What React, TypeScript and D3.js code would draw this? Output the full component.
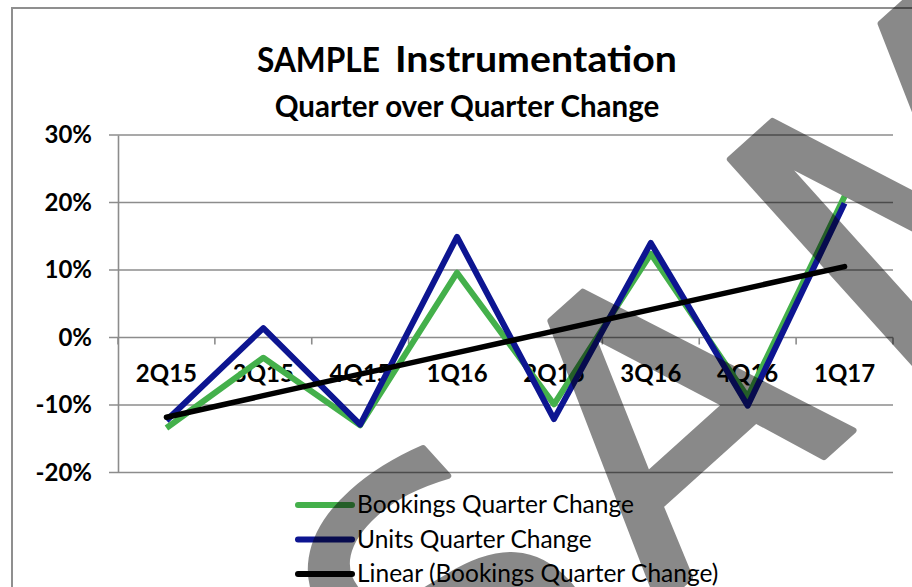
import React, { useEffect, useRef } from 'react'
import * as d3 from 'd3'

// data (percent change)
const quarters = ['2Q15', '3Q15', '4Q15', '1Q16', '2Q16', '3Q16', '4Q16', '1Q17']
const bookingsChange = [-13.4, -3.0, -13.0, 9.6, -9.9, 12.4, -8.8, 20.9]
const unitsChange = [-12.3, 1.4, -12.9, 14.9, -12.1, 14.0, -10.1, 19.9]
const yTicks = [-20, -10, 0, 10, 20, 30]
const legendNames = ['Bookings Quarter Change', 'Units Quarter Change', 'Linear (Bookings Quarter Change)']
const seriesColors = ['#44b04b', '#0d1591', '#000000']

const W = 912
const H = 587
const FONT = 'Lato, "Open Sans", sans-serif'

export default function App() {
  const ref = useRef<SVGSVGElement>(null)

  useEffect(() => {
    const svg = d3.select(ref.current)
    svg.selectAll('*').remove()

    const left = 118
    const right = 893
    const top = 135
    const bottom = 472.5

    const x = d3.scaleBand().domain(quarters).range([left, right])
    const y = d3.scaleLinear().domain([-20, 30]).range([bottom, top])
    const cx = (q: string) => (x(q) as number) + x.bandwidth() / 2

    svg.append('rect').attr('width', W).attr('height', H).attr('fill', '#fff')

    // chart border (left + top, right side is cut off)
    svg.append('path')
      .attr('d', `M12,${H}V8H${W}`)
      .attr('fill', 'none')
      .attr('stroke', '#8f8f8f')
      .attr('stroke-width', 2)

    // titles
    svg.append('text')
      .attr('x', 257).attr('y', 72)
      .attr('font-family', FONT)
      .attr('font-size', 35)
      .attr('font-weight', 700)
      .attr('textLength', 123)
      .attr('lengthAdjust', 'spacingAndGlyphs')
      .text('SAMPLE')
    svg.append('text')
      .attr('x', 395).attr('y', 72)
      .attr('font-family', FONT)
      .attr('font-size', 36)
      .attr('font-weight', 700)
      .attr('textLength', 282)
      .attr('lengthAdjust', 'spacingAndGlyphs')
      .text('Instrumentation')

    svg.append('text')
      .attr('x', 467).attr('y', 117)
      .attr('text-anchor', 'middle')
      .attr('font-family', FONT)
      .attr('font-size', 29.5)
      .attr('font-weight', 700)
      .text('Quarter over Quarter Change')

    // gridlines
    svg.append('g')
      .selectAll('line')
      .data(yTicks)
      .enter()
      .append('line')
      .attr('x1', left - 9).attr('x2', right)
      .attr('y1', d => y(d)).attr('y2', d => y(d))
      .attr('stroke', '#8c8c8c')
      .attr('stroke-width', 1.6)

    // y axis
    let yAxis = d3.axisLeft(y)
      .tickValues(yTicks)
      .tickSize(0)
      .tickPadding(26)
      .tickFormat(d => d + '%')
    let yg = svg.append('g').attr('transform', `translate(${left},0)`).call(yAxis)
    yg.select('.domain').attr('stroke', '#8c8c8c').attr('stroke-width', 1.6)
    yg.selectAll('text')
      .attr('font-family', FONT)
      .attr('font-size', 24)
      .attr('font-weight', 700)
      .attr('fill', '#000')

    // x ticks between categories, on the 0% line
    svg.append('g')
      .selectAll('line')
      .data(d3.range(quarters.length + 1))
      .enter()
      .append('line')
      .attr('x1', i => left + i * x.step())
      .attr('x2', i => left + i * x.step())
      .attr('y1', y(0)).attr('y2', y(0) + 7)
      .attr('stroke', '#8c8c8c')
      .attr('stroke-width', 1.6)

    svg.append('g')
      .selectAll('text')
      .data(quarters)
      .enter()
      .append('text')
      .attr('x', d => cx(d))
      .attr('y', 382)
      .attr('text-anchor', 'middle')
      .attr('font-family', FONT)
      .attr('font-size', 24)
      .attr('font-weight', 700)
      .text(d => d)

    // series lines
    const line = d3.line<number>()
      .x((d, i) => cx(quarters[i]))
      .y(d => y(d))

    ;[bookingsChange, unitsChange].forEach((s, k) => {
      svg.append('path')
        .attr('d', line(s))
        .attr('fill', 'none')
        .attr('stroke', seriesColors[k])
        .attr('stroke-width', 6)
        .attr('stroke-linejoin', 'round')
    })

    // linear trend of bookings (least squares)
    const idx = d3.range(bookingsChange.length)
    const mx = d3.mean(idx) as number
    const my = d3.mean(bookingsChange) as number
    const slope = d3.sum(idx, i => (i - mx) * (bookingsChange[i] - my)) / d3.sum(idx, i => (i - mx) ** 2)
    const trend = idx.map(i => my + slope * (i - mx))
    svg.append('path')
      .attr('d', line(trend))
      .attr('fill', 'none')
      .attr('stroke', seriesColors[2])
      .attr('stroke-width', 5.5)
      .attr('stroke-linecap', 'round')

    // legend
    let lg = svg.append('g')
      .selectAll('g')
      .data(legendNames)
      .enter()
      .append('g')
      .attr('transform', (d, i) => `translate(0,${505 + i * 34.5})`)
    lg.append('line')
      .attr('x1', 298).attr('x2', 352)
      .attr('stroke', (d, i) => seriesColors[i])
      .attr('stroke-width', 6)
      .attr('stroke-linecap', 'round')
    lg.append('text')
      .attr('x', 357).attr('y', 8)
      .attr('font-family', FONT)
      .attr('font-size', 24.5)
      .attr('fill', '#000')
      .text(d => d)

    // watermark on top
    let wm = svg.append('g').attr('opacity', 0.46)
    let wt = wm.append('text')
      .attr('transform', 'translate(452,792) rotate(-42)')
      .attr('font-family', '"DejaVu Sans", sans-serif')
      .attr('font-size', 390)
      .attr('letter-spacing', 22)
      .attr('fill', '#000')
      .attr('stroke', '#000')
      .attr('stroke-width', 6)
      .attr('stroke-linejoin', 'round')
    wt.append('tspan').text('SA')
    wt.append('tspan').attr('dx', 26).text('MPLE')
  }, [])

  return (
    <svg
      ref={ref}
      width={W}
      height={H}
      style={{ position: 'absolute', left: 0, top: 0, display: 'block' }}
    />
  )
}
